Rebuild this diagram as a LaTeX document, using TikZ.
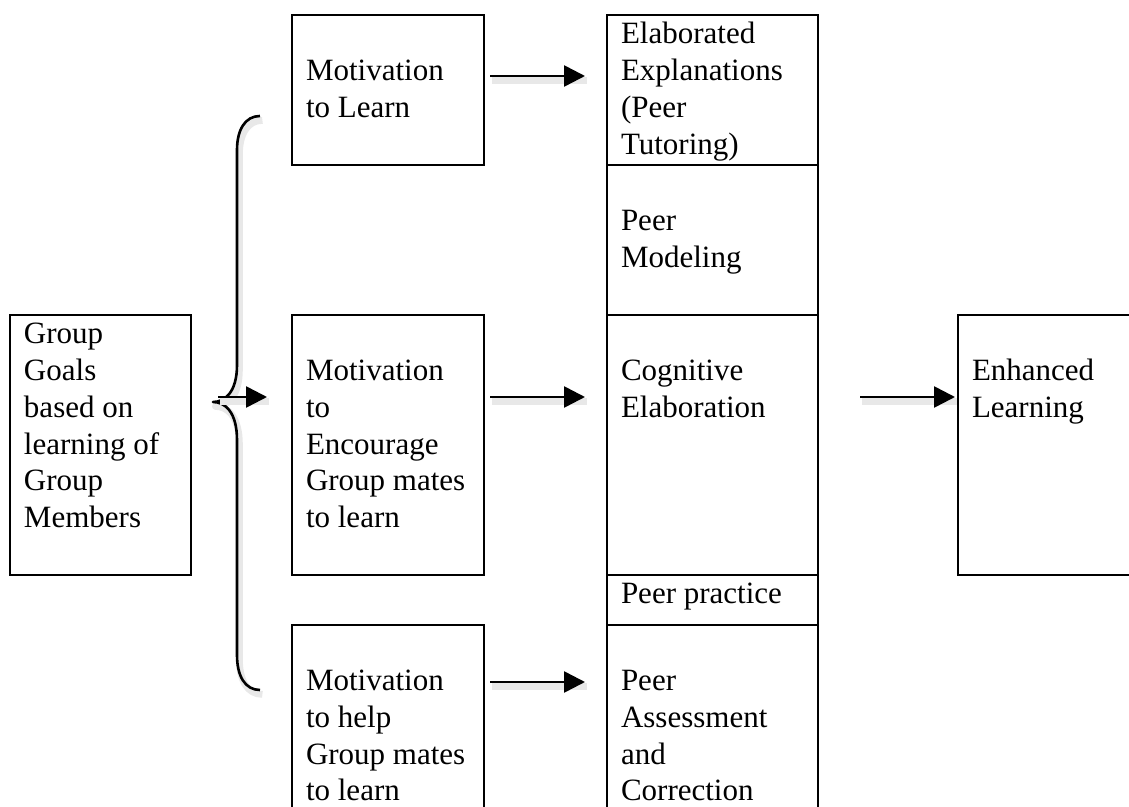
\documentclass[tikz,border=0pt]{standalone}
\usepackage{fontspec}
\setmainfont{Liberation Serif}
\usetikzlibrary{arrows.meta}

\begin{document}
\begin{tikzpicture}[
    x=0.5pt, y=-0.5pt,
    box/.style={draw, line width=1.1pt, anchor=north west, inner sep=0pt, outer sep=0pt},
    txt/.style={anchor=north west, align=left, inner xsep=7pt, inner ysep=1.65pt, outer sep=0pt},
    soft/.style={preaction={-, draw=black!9, line width=3.4pt, line join=round, transform canvas={shift={(1.2pt,-2.2pt)}}}},
    arr/.style={->, line width=1.3pt, soft},
    >={Triangle[length=10.5pt, width=10.5pt]},
    font=\fontsize{15.5}{18.35}\selectfont
]
    \clip (0,0) rectangle (1129,807);

    % 左边 (目标)
    \node[box, minimum width=90.5pt, minimum height=130pt] (gg) at (10,315) {};
    \node[txt] (ggt) at (gg.north west) {\strut Group\\Goals\\based on\\learning of\\Group\\Members};

    % 中间列 (动机)
    \node[box, minimum width=96pt, minimum height=75pt] (ml) at (292,15) {};   % 上
    \node[box, minimum width=96pt, minimum height=130pt] (me) at (292,315) {}; % 中
    \node[box, minimum width=96pt, minimum height=107.5pt] (mh) at (292,625) {}; % 下
    \node[txt] (mlt) at (ml.north west) {\strut\\Motivation\\to Learn};
    \node[txt] (met) at (me.north west) {\strut\\Motivation\\to\\Encourage\\Group mates\\to learn};
    \node[txt] (mht) at (mh.north west) {\strut\\Motivation\\to help\\Group mates\\to learn};

    % 右边列
    \node[box, minimum width=105.5pt, minimum height=75pt] (ee) at (607,15) {};
    \node[box, minimum width=105.5pt, minimum height=75pt] (pm) at (607,165) {};
    \node[box, minimum width=105.5pt, minimum height=130pt] (ce) at (607,315) {};
    \node[box, minimum width=105.5pt, minimum height=25pt] (pp) at (607,575) {};
    \node[box, minimum width=105.5pt, minimum height=107.5pt] (pa) at (607,625) {};
    \node[txt] (eet) at (ee.north west) {\strut Elaborated\\Explanations\\(Peer\\Tutoring)};
    \node[txt] (pmt) at (pm.north west) {\strut\\Peer\\Modeling};
    \node[txt] (cet) at (ce.north west) {\strut\\Cognitive\\Elaboration};
    \node[txt] (ppt) at (pp.north west) {\strut Peer practice};
    \node[txt] (pat) at (pa.north west) {\strut\\Peer\\Assessment\\and\\Correction};

    % 结果
    \node[box, minimum width=101pt, minimum height=130pt] (en) at (958,315) {};
    \node[txt] (ent) at (en.north west) {\strut\\Enhanced\\Learning};

    % 1. 大括号
    \coordinate (btip) at (213,402);
    \draw[line width=1.3pt, line join=round, soft]
        (260,116) .. controls (245,116) and (237,130) .. (237,150) -- (237,365)
        .. controls (237,392) and (225,402) .. (btip)
        .. controls (225,402) and (237,412) .. (237,440) -- (237,655)
        .. controls (237,676) and (245,690) .. (260,690);

    % 2. 箭头
    \coordinate (bout) at (218,397);
    \coordinate (bin) at (267,397);
    \draw[arr] (bout) -- (bin);
    \draw[arr, shorten <=3pt, shorten >=11pt] ([yshift=7pt]ml.east) -- ([yshift=7pt]ee.west);
    \draw[arr, shorten <=3pt, shorten >=11pt] ([yshift=24pt]me.east) -- ([yshift=24pt]ce.west);
    \draw[arr, shorten <=3pt, shorten >=11pt] ([yshift=25.25pt]mh.east) -- ([yshift=25.25pt]pa.west);
    \draw[arr, shorten <=21pt, shorten >=1.5pt] ([yshift=24pt]ce.east) -- ([yshift=24pt]en.west);

\end{tikzpicture}
\end{document}
